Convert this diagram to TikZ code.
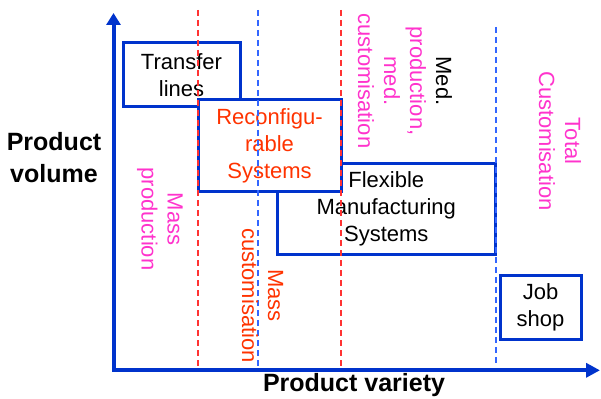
\documentclass[tikz,border=0pt]{standalone}
\usepackage{fontspec}
\setmainfont{Liberation Sans}
\usetikzlibrary{arrows.meta}

\definecolor{boxblue}{HTML}{0033CC}
\definecolor{dashred}{HTML}{FF3333}
\definecolor{dashblue}{HTML}{3366FF}
\definecolor{labelpink}{HTML}{FF33CC}
\definecolor{labelorange}{HTML}{FF3300}

\tikzset{
  sysbox/.style={draw=boxblue,line width=3pt,fill=white,align=center,inner sep=0pt,
    font=\fontsize{22}{27}\selectfont},
  axisline/.style={draw=boxblue,line width=4pt,
    {Triangle[width=14pt,length=14pt]}-{Triangle[width=14pt,length=12pt]}},
  reddash/.style={dashred,line width=1.8pt,dash pattern=on 6pt off 4pt},
  bluedash/.style={dashblue,line width=1.8pt,dash pattern=on 6pt off 4pt},
  ratelabel/.style={rotate=-90,inner sep=0pt,align=center,font=\fontsize{22}{26}\selectfont},
  axislabel/.style={align=center,inner sep=0pt,font=\fontsize{25}{32}\selectfont\bfseries}
}

\begin{document}
\begin{tikzpicture}[x=1pt,y=-1pt]
  \useasboundingbox (0,0) rectangle (601,398);
  % axes
  \coordinate (xend) at (600,370.3);
  \coordinate (yend) at (113.5,13);
  \draw[axisline] (xend) -| (yend);
  \node[axislabel] (volume) at (54,158) {Product\\volume};
  \node[axislabel] (variety) at (354,385) {Product variety};
  % systems
  \node[sysbox,minimum width=117pt,minimum height=64pt] (transfer) at (181.5,75) {Transfer\\lines};
  \node[sysbox,minimum width=218.5pt,minimum height=91.5pt] (fms) at (386.25,208.75) {Flexible\\Manufacturing\\Systems};
  \node[sysbox,minimum width=143pt,minimum height=91.5pt,text=labelorange] (reconf) at (269.5,145.75) {Reconfigu-\\rable\\Systems};
  \node[sysbox,minimum width=81pt,minimum height=64pt] (jobshop) at (540.5,307) {Job\\shop};
  % borders between eras
  \foreach \x in {198,341}
    \draw[reddash] (\x,10) -- (\x,367);
  \draw[bluedash] (258.3,10) -- (258.3,367);
  \draw[bluedash] (496,27) -- (496,365);
  % eras
  \node[ratelabel,text=labelpink] (massprod) at (160,219) {Mass\\production};
  \node[ratelabel,text=labelorange] (masscust) at (262.5,295.5) {Mass\\customisation};
  \node[ratelabel,text=labelpink] (medium) at (405,81) {{\color{black}Med.}\\production,\\med.\\customisation};
  \node[ratelabel,text=labelpink] (total) at (560,141) {Total\\Customisation};
\end{tikzpicture}
\end{document}
